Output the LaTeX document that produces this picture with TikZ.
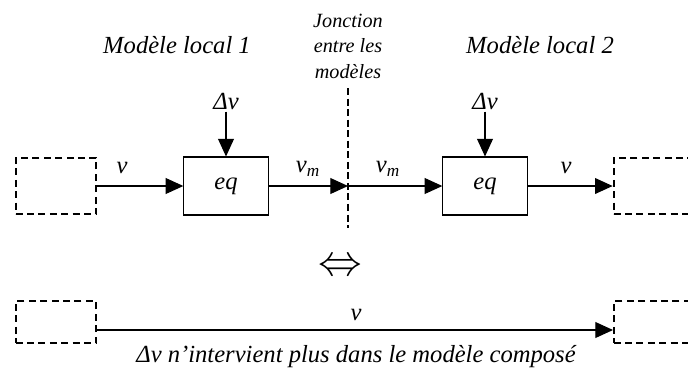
\documentclass[tikz,border=0pt]{standalone}
\usepackage{fontspec}
\setmainfont{Liberation Serif}
\usetikzlibrary{arrows.meta}

\tikzset{
	bigtip/.style={-{Triangle[length=10pt,width=9pt]}},
	eqbox/.style={draw, line width=0.6pt, minimum width=48pt, minimum height=33pt, inner sep=0pt, font=\fontsize{14}{16}\selectfont\itshape},
	dashbox/.style={draw, dashed, line width=1.1pt, dash pattern=on 4pt off 2.5pt, inner sep=0pt},
	lbl/.style={font=\fontsize{14}{16}\selectfont\itshape, inner sep=1pt},
}

\begin{document}
\begin{tikzpicture}[x=0.02cm, y=-0.02cm, line width=0.6pt]
		\useasboundingbox (0, 0) rectangle (688, 376);
		\clip (0, 0) rectangle (688, 376);
		% Paths, nodes and wires:
		\node[dashbox, minimum width=46pt, minimum height=32pt] (srcA) at (56, 186){};
		\node[dashbox, minimum width=46pt, minimum height=32pt] (dstA) at (654, 186){};
		\node[eqbox] (eqA) at (226, 186){eq};
		\node[eqbox] (eqB) at (485, 186){eq};
		\coordinate (juncTop) at (348, 88);
		\coordinate (juncBot) at (348, 228);
		\coordinate (junc) at (348, 186);
		\draw[dashed, dash pattern=on 4pt off 2pt, line width=0.8pt] (juncTop) -- (juncBot);
		\draw[bigtip] (srcA.east) -- (eqA.west);
		\draw[bigtip] (eqA.east) -- (junc);
		\draw[bigtip] (junc) -- (eqB.west);
		\draw[bigtip] (eqB.east) -- (dstA.west);
		\node[lbl] (dvA) at (226, 101){Δv};
		\node[lbl] (dvB) at (485, 101){Δv};
		\draw[bigtip] (dvA.south) -- (eqA.north);
		\draw[bigtip] (dvB.south) -- (eqB.north);
		\node[lbl] (vA) at (122, 168){v};
		\node[lbl] (vmA) at (308, 169){v\textsubscript{m}};
		\node[lbl] (vmB) at (388, 169){v\textsubscript{m}};
		\node[lbl] (vB) at (566, 168){v};
		\node[lbl] (modA) at (177, 45){Modèle local 1};
		\node[lbl] (modB) at (540, 45){Modèle local 2};
		\node[lbl, align=center, font=\fontsize{11.5}{14.5}\selectfont\itshape] (jonc) at (348, 46){Jonction\\entre les\\modèles};
		\node (equiv) at (340, 267){\fontsize{26}{28}\selectfont$\Leftrightarrow$};
		% composed model
		\node[dashbox, minimum width=46pt, minimum height=23.5pt] (srcC) at (56, 322){};
		\node[dashbox, minimum width=46pt, minimum height=23.5pt] (dstC) at (654, 322){};
		\coordinate (runL) at (97, 330);
		\coordinate (runR) at (613, 330);
		\draw[bigtip] (runL) -- (runR);
		\node[lbl] (vC) at (356, 315){v};
		\node[lbl] (note) at (356, 357){Δv n’intervient plus dans le modèle composé};
	\end{tikzpicture}
\end{document}
